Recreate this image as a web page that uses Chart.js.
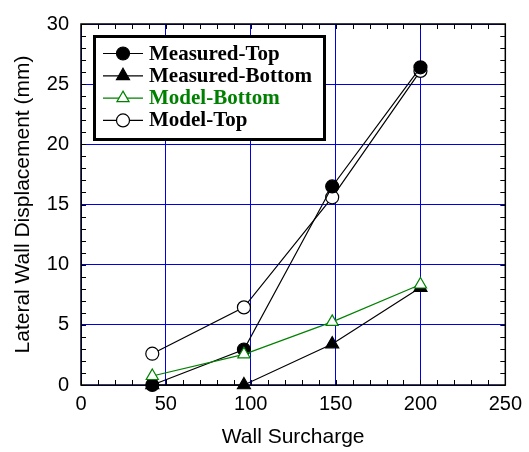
<!DOCTYPE html>
<html><head><meta charset="utf-8">
<script src="https://cdn.jsdelivr.net/npm/chart.js@4"></script>
<style>html,body{margin:0;padding:0;background:#fff}#wrap{width:529px;height:452px}</style>
</head><body><div id="wrap"><canvas id="c" width="529" height="452"></canvas></div>
<script>
const surcharge = [42, 96, 148, 200];
const measuredTop = [0, 2.95, 16.5, 26.4];
const measuredBottom = [0, 0, 3.4, 8.1];
const modelBottom = [0.75, 2.55, 5.25, 8.35];
const modelTop = [2.6, 6.45, 15.6, 26.1];
const seriesNames = ['Measured-Top', 'Measured-Bottom', 'Model-Bottom', 'Model-Top'];
const xTitle = 'Wall Surcharge';
const yTitle = 'Lateral Wall Displacement (mm)';

const pts = arr => surcharge.map((x, i) => ({x: x, y: arr[i]}));
const GREEN = '#008000';
const datasets = [
  {label: seriesNames[0], data: pts(measuredTop), borderColor: '#000', backgroundColor: '#000', pointStyle: 'circle', pointRadius: 6.5, order: 1},
  {label: seriesNames[1], data: pts(measuredBottom), borderColor: '#000', backgroundColor: '#000', pointStyle: 'triangle', pointRadius: 7.5, order: 2},
  {label: seriesNames[2], data: pts(modelBottom), borderColor: GREEN, backgroundColor: '#fff', pointStyle: 'triangle', pointRadius: 7, order: 0, textColor: GREEN},
  {label: seriesNames[3], data: pts(modelTop), borderColor: '#000', backgroundColor: '#fff', pointStyle: 'circle', pointRadius: 6.5, order: 3}
].map(d => Object.assign({borderWidth: 1.2, pointBorderWidth: 1.2, pointBackgroundColor: d.backgroundColor, pointBorderColor: d.borderColor, clip: false, tension: 0, fill: false}, d));

const framePlugin = {
  id: 'frame',
  beforeDatasetsDraw(chart) {
    const {ctx, chartArea: a, scales: {x, y}} = chart;
    ctx.save();
    ctx.strokeStyle = '#000';
    ctx.lineWidth = 1;
    ctx.beginPath();
    for (let v = 0; v <= 250; v += 10) {
      const px = Math.round(x.getPixelForValue(v)) + 0.5;
      ctx.moveTo(px, a.bottom); ctx.lineTo(px, a.bottom - 5);
      ctx.moveTo(px, a.top); ctx.lineTo(px, a.top + 5);
    }
    for (let v = 0; v <= 30; v += 1) {
      const py = Math.round(y.getPixelForValue(v)) + 0.5;
      ctx.moveTo(a.left, py); ctx.lineTo(a.left + 5, py);
      ctx.moveTo(a.right, py); ctx.lineTo(a.right - 5, py);
    }
    ctx.stroke();
    ctx.lineWidth = 1.5;
    ctx.strokeRect(a.left, a.top, a.right - a.left, a.bottom - a.top);
    ctx.restore();
  }
};

const legendPlugin = {
  id: 'boxLegend',
  afterDraw(chart) {
    const ctx = chart.ctx;
    ctx.save();
    const bx = 94.5, by = 36.5, bw = 230, bh = 103;
    ctx.fillStyle = '#fff';
    ctx.fillRect(bx, by, bw, bh);
    ctx.lineWidth = 3;
    ctx.strokeStyle = '#000';
    ctx.strokeRect(bx, by, bw, bh);
    ctx.font = 'bold 21px "Liberation Serif", "Times New Roman", serif';
    ctx.textBaseline = 'alphabetic';
    ctx.textAlign = 'left';
    chart.data.datasets.forEach((d, i) => {
      const cy = 53.5 + i * 22.3;
      ctx.strokeStyle = d.borderColor;
      ctx.lineWidth = 1.2;
      ctx.beginPath(); ctx.moveTo(103, cy); ctx.lineTo(143, cy); ctx.stroke();
      ctx.fillStyle = d.backgroundColor;
      Chart.helpers.drawPoint(ctx, {pointStyle: d.pointStyle, radius: d.pointRadius, rotation: 0, borderWidth: 1.2}, 123, cy);
      ctx.fillStyle = d.textColor || '#000';
      ctx.fillText(d.label, 149, cy + 6);
    });
    ctx.restore();
  }
};

new Chart(document.getElementById('c'), {
  type: 'line',
  data: {datasets},
  plugins: [framePlugin, legendPlugin],
  options: {
    responsive: false,
    animation: false,
    devicePixelRatio: 1,
    layout: {padding: {left: 0, right: 18, top: 22, bottom: 0}},
    plugins: {legend: {display: false}, tooltip: {enabled: false}},
    scales: {
      x: {
        type: 'linear', min: 0, max: 250,
        ticks: {stepSize: 50, color: '#000', padding: 7, font: {family: '"Liberation Sans", Arial, sans-serif', size: 20}},
        grid: {color: '#0000e0', lineWidth: 1, drawTicks: false},
        border: {display: false},
        title: {display: true, text: xTitle, color: '#000', font: {family: '"Liberation Sans", Arial, sans-serif', size: 21}, padding: {top: 0, bottom: 2}},
        afterFit(s) { s.height = 67; }
      },
      y: {
        type: 'linear', min: 0, max: 30,
        ticks: {stepSize: 5, color: '#000', padding: 12, font: {family: '"Liberation Sans", Arial, sans-serif', size: 20}},
        grid: {color: '#0000e0', lineWidth: 1, drawTicks: false},
        border: {display: false},
        title: {display: true, text: yTitle, color: '#000', font: {family: '"Liberation Sans", Arial, sans-serif', size: 21}, padding: {top: 11, bottom: 0}},
        afterFit(s) { s.width = 81; }
      }
    }
  }
});
</script>
</body></html>
